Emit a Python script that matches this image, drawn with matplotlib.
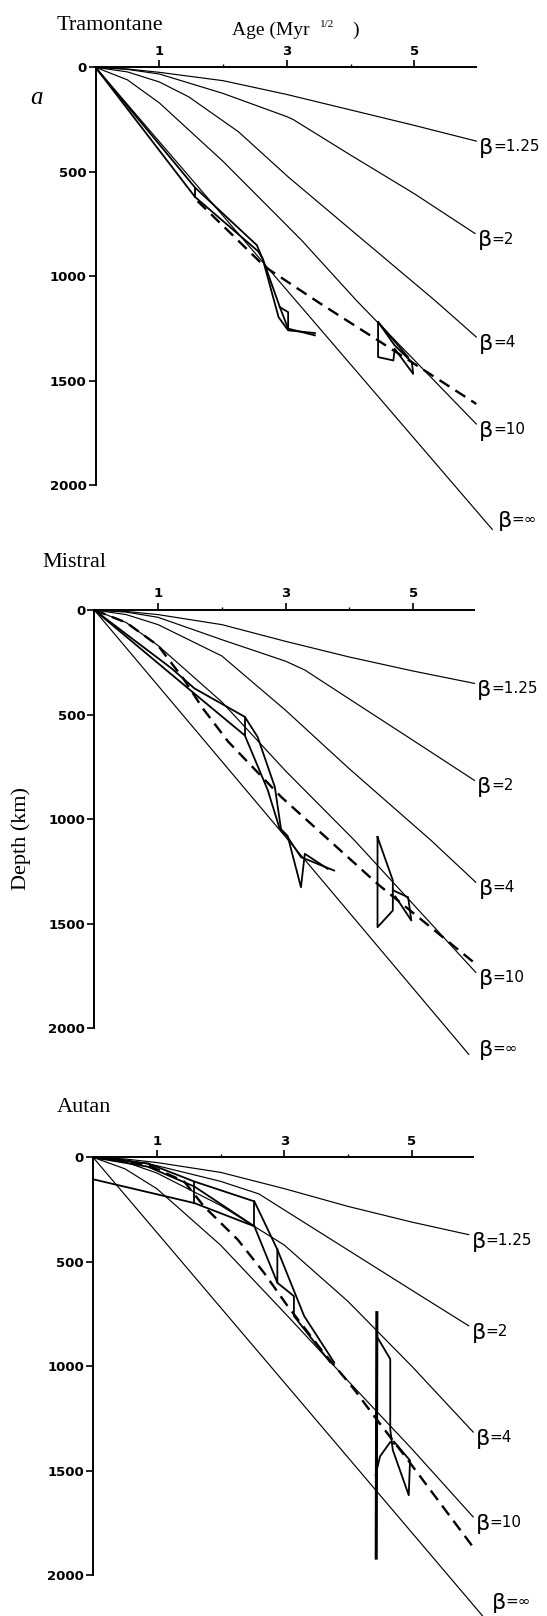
import matplotlib.pyplot as plt

# figure size in pixels (dpi 100)
W, H = 547, 1616

beta_labels = ["1.25", "2", "4", "10", "\u221e"]
age_ticks = [1, 3, 5]
age_minor = [2, 4]
depth_ticks = [0, 500, 1000, 1500, 2000]

# ---- Tramontane: (age Myr^1/2, depth km) ----
tram_b125 = [(0, 0), (0.5, 8), (1, 24), (2, 64), (3, 130), (4, 204), (5, 278), (5.97, 353)]
tram_b2 = [(0, 0), (0.5, 10), (1, 32), (2, 125), (3, 236), (3.1, 250), (4, 420), (5, 605), (5.95, 795)]
tram_b4 = [(0, 0), (0.5, 22), (1, 70), (1.46, 141), (2.24, 308), (3.02, 524), (4, 776), (5.32, 1115), (5.97, 1290)]
tram_b10 = [(0, 0), (0.5, 60), (1, 170), (2, 450), (3.23, 827), (4.09, 1115), (5.97, 1706)]
tram_binf = [(0, 0), (6.22, 2210)]
tram_obs = [
    [(0, 0), (1.56, 575), (2.53, 851), (2.63, 923), (2.89, 1147), (3.02, 1250), (3.44, 1282)],
    [(0, 0), (1.56, 620), (2.55, 880), (2.62, 915), (2.87, 1195), (3.02, 1258), (3.44, 1271)],
    [(1.56, 575), (1.56, 620)],
    [(2.89, 1147), (3.02, 1171), (3.02, 1250)],
    [(4.43, 1218), (4.43, 1386), (4.67, 1402), (4.69, 1346), (4.98, 1466), (4.96, 1410),
     (4.69, 1330), (4.43, 1218)],
    [(4.43, 1218), (4.9, 1386)],
]
tram_fit = [(1.6, 640), (2.14, 800), (2.66, 955), (3.5, 1125), (4.5, 1320), (5.97, 1610)]

# ---- Mistral ----
mist_b125 = [(0, 0), (0.5, 7), (1, 22), (2, 70), (3, 150), (4, 225), (5, 292), (5.96, 351)]
mist_b2 = [(0, 0), (0.5, 10), (1, 35), (2, 142), (3, 245), (3.3, 287), (4, 426), (5, 624), (5.96, 815)]
mist_b4 = [(0, 0), (0.5, 22), (1, 70), (2, 220), (3, 480), (4, 760), (5.28, 1102), (5.98, 1302)]
mist_b10 = [(0, 0), (0.5, 60), (1, 170), (2, 440), (3, 770), (4.08, 1102), (5.98, 1733)]
mist_binf = [(0, 0), (5.87, 2125)]
mist_obs = [
    [(0, 0), (1.21, 279), (1.57, 375), (2.36, 511), (2.56, 607), (2.83, 846), (2.93, 1054),
     (3.03, 1086), (3.24, 1182), (3.76, 1246)],
    [(0, 0), (1.57, 400), (2.36, 600), (2.72, 862), (2.9, 1040), (3.03, 1080), (3.24, 1326),
     (3.30, 1166), (3.66, 1238)],
    [(2.36, 511), (2.36, 600)],
    [(4.44, 1086), (4.44, 1517), (4.68, 1437), (4.68, 1293), (4.44, 1086)],
    [(4.68, 1340), (4.92, 1374), (4.97, 1485), (4.72, 1370)],
]
mist_fit = [(0, 0), (0.5, 60), (1.0, 170), (1.4, 330), (1.7, 470), (2.1, 630), (2.93, 894),
            (4.44, 1310), (5.98, 1693)]

# ---- Autan ----
autan_b125 = [(0, 0), (0.5, 8), (1, 25), (2, 72), (3, 150), (4, 235), (5, 310), (5.89, 370)]
autan_b2 = [(0, 0), (0.5, 12), (1, 40), (2, 115), (2.6, 175), (3, 252), (4, 444), (5, 636), (5.89, 806)]
autan_b4 = [(0, 0), (0.5, 22), (1, 75), (2, 230), (3, 420), (4, 690), (5, 1000), (5.96, 1314)]
autan_b10 = [(0, 0), (0.5, 55), (1, 150), (2, 420), (3.05, 759), (4, 1070), (5, 1395), (5.96, 1720)]
autan_binf = [(0, 0), (6.14, 2205)]
autan_obs = [
    [(0, 0), (0.86, 29), (1.59, 116), (2.53, 211), (2.89, 441), (3.31, 759), (3.78, 981)],
    [(0, 0), (0.86, 45), (1.59, 140), (2.53, 330), (2.89, 600), (2.89, 441)],
    [(2.89, 600), (3.15, 664), (3.15, 759), (3.72, 981), (3.78, 981)],
    [(1.59, 116), (1.59, 219)],
    [(2.53, 211), (2.53, 330)],
    [(0, 105), (1.59, 219), (2.53, 330)],
    [(4.45, 857), (4.66, 965), (4.66, 1300), (4.70, 1400), (4.95, 1616), (4.97, 1450), (4.72, 1360)],
    [(4.43, 1520), (4.5, 1430), (4.66, 1362), (4.72, 1370)],
]
autan_vert = [(4.45, 743), (4.44, 1917)]
autan_fit = [(0, 0), (0.86, 37), (1.43, 116), (1.74, 235), (2.27, 394), (2.68, 552), (3.05, 711),
             (3.57, 917), (4.09, 1108), (4.40, 1235), (4.92, 1441), (5.99, 1877)]

serif = "Liberation Serif"
sans = "DejaVu Sans"

fig = plt.figure(figsize=(W / 100, H / 100), dpi=100)


def panel(left, top, curves, obs, fit, inf_off, extra=None):
    ax = fig.add_axes([left / W, 1 - (top + 460) / H, 421 / W, 460 / H])
    ax.set_xlim(0, 6.6)
    ax.set_ylim(2200, 0)
    ax.patch.set_visible(False)
    ax.spines["right"].set_visible(False)
    ax.spines["bottom"].set_visible(False)
    ax.spines["top"].set_bounds(0, 5.96)
    ax.spines["left"].set_bounds(0, 2000)
    ax.spines["top"].set_linewidth(1.4)
    ax.spines["left"].set_linewidth(1.4)
    ax.xaxis.tick_top()
    ax.set_xticks(age_ticks)
    ax.set_xticks(age_minor, minor=True)
    ax.set_yticks(depth_ticks)
    ax.tick_params(axis="x", which="major", length=5, width=1.2, pad=2, labelsize=9.5)
    ax.tick_params(axis="x", which="minor", length=2, width=1)
    ax.tick_params(axis="y", length=5, width=1.2, pad=1.5, labelsize=9.5)
    for lab in ax.get_xticklabels() + ax.get_yticklabels():
        lab.set_fontweight("bold")
        lab.set_family(sans)

    for pts, lab in zip(curves, beta_labels):
        a, d = zip(*pts)
        ax.plot(a, d, color="k", lw=0.85, clip_on=False)
        off = inf_off if lab == "\u221e" else (2, -5)
        ax.annotate("\u03b2", (a[-1], d[-1]), xytext=off, textcoords="offset points",
                    ha="left", va="center", fontsize=16, family=sans, annotation_clip=False)
        ax.annotate("=" + lab, (a[-1], d[-1]), xytext=(off[0] + 10, off[1] + 1),
                    textcoords="offset points", ha="left", va="center", fontsize=11,
                    family=sans, annotation_clip=False)

    for pts in obs:
        a, d = zip(*pts)
        ax.plot(a, d, color="k", lw=1.3, clip_on=False)

    if extra is not None:
        a, d = zip(*extra)
        ax.plot(a, d, color="k", lw=2.2, clip_on=False)

    a, d = zip(*fit)
    ax.plot(a, d, color="k", lw=1.7, dashes=(5, 3), clip_on=False)
    return ax


panel(95.5, 67.3, [tram_b125, tram_b2, tram_b4, tram_b10, tram_binf], tram_obs, tram_fit, (4, 6))
panel(94.3, 610, [mist_b125, mist_b2, mist_b4, mist_b10, mist_binf], mist_obs, mist_fit, (7, 3))
panel(93, 1157.3, [autan_b125, autan_b2, autan_b4, autan_b10, autan_binf], autan_obs, autan_fit,
      (5, 11), extra=autan_vert)

# titles and axis labels
fig.text(57 / W, 1 - 30 / H, "Tramontane", family=serif, fontsize=16, va="baseline")
fig.text(232 / W, 1 - 35 / H, "Age (Myr", family=serif, fontsize=14, va="baseline")
fig.text(320 / W, 1 - 27 / H, "1/2", family=serif, fontsize=8, va="baseline")
fig.text(352 / W, 1 - 35 / H, ")", family=serif, fontsize=14, va="baseline")
fig.text(30 / W, 1 - 104 / H, "a", family=serif, fontsize=18, style="italic", va="baseline")
fig.text(42 / W, 1 - 567 / H, "Mistral", family=serif, fontsize=16, va="baseline")
fig.text(21 / W, 1 - 838 / H, "Depth (km)", family=serif, fontsize=16, rotation=90,
         ha="center", va="center")
fig.text(57 / W, 1 - 1112 / H, "Autan", family=serif, fontsize=16, va="baseline")

fig.savefig("out.png", dpi=100)
